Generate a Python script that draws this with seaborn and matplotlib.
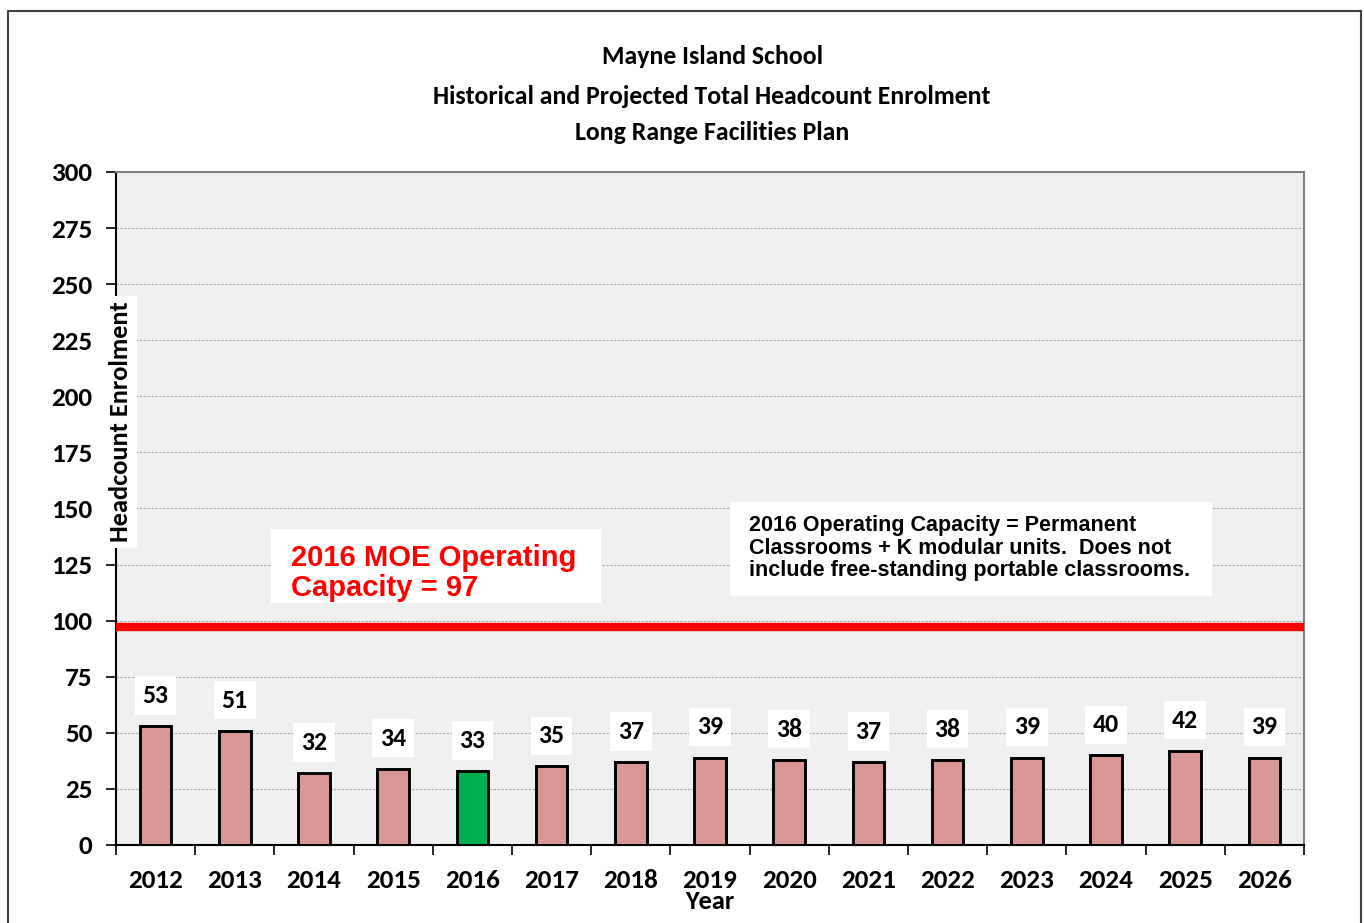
import matplotlib
matplotlib.use("Agg")
import matplotlib.pyplot as plt
import seaborn as sns
import pandas as pd
from matplotlib.ticker import MultipleLocator, FixedLocator
from matplotlib.patches import Rectangle
from matplotlib import font_manager as fm

years = ["2012", "2013", "2014", "2015", "2016", "2017", "2018", "2019",
         "2020", "2021", "2022", "2023", "2024", "2025", "2026"]
enrolment = [53, 51, 32, 34, 33, 35, 37, 39, 38, 37, 38, 39, 40, 42, 39]
current_year = "2016"
capacity = 97
title_lines = ["Mayne Island School",
               "Historical and Projected Total Headcount Enrolment",
               "Long Range Facilities Plan"]
capacity_label = "2016 MOE Operating\nCapacity = 97"
note_text = ("2016 Operating Capacity = Permanent\n"
             "Classrooms + K modular units.  Does not\n"
             "include free-standing portable classrooms.")

sns.set_style("white")
plt.rcParams['font.family'] = ['Lato', 'DejaVu Sans']
for k in ["text.color", "axes.labelcolor", "xtick.color", "ytick.color"]:
    plt.rcParams[k] = "black"


def find_font(cands):
    files = [f.fname for f in fm.fontManager.ttflist]
    for c in cands:
        for p in files:
            if p.split("/")[-1].lower() == c.lower():
                return p
    return None


calib_path = find_font(["Carlito-Bold.ttf", "Lato-Bold.ttf", "OpenSans-Bold.ttf",
                        "Roboto-Bold.ttf", "LiberationSans-Bold.ttf"])
arial_path = find_font(["LiberationSans-Bold.ttf"])


def cf(size):
    if calib_path:
        return fm.FontProperties(fname=calib_path, size=size)
    return fm.FontProperties(family="DejaVu Sans", weight="bold", size=size)


def af(size):
    if arial_path:
        return fm.FontProperties(fname=arial_path, size=size)
    return fm.FontProperties(family="DejaVu Sans", weight="bold", size=size)


W, H = 1364, 923
fig = plt.figure(figsize=(W / 100, H / 100), dpi=100)
ax = fig.add_axes([116 / W, 1 - 845 / H, (1304 - 116) / W, (845 - 172) / H])

df = pd.DataFrame({"Year": years, "Enrolment": enrolment})
df["kind"] = ["current" if y == current_year else "other" for y in years]
palette = {"other": "#D99694", "current": "#00B050"}

sns.barplot(data=df, x="Year", y="Enrolment", hue="kind", palette=palette,
            dodge=False, width=0.4, edgecolor="black", linewidth=2.1,
            saturation=1, legend=False, ax=ax, zorder=3)

ax.set_facecolor("#F0F0F0")
ax.set_ylim(0, 300)
ax.set_xlim(-0.5, len(years) - 0.5)
ax.yaxis.set_major_locator(MultipleLocator(25))
ax.grid(axis="y", color="#A6A6A6", linestyle=(0, (2, 1.5)), linewidth=0.8, zorder=0)
ax.set_axisbelow(True)

for side in ["top", "right"]:
    ax.spines[side].set_color("#808080")
    ax.spines[side].set_linewidth(1.5)
for side in ["left", "bottom"]:
    ax.spines[side].set_color("black")
    ax.spines[side].set_linewidth(1.5)

ax.tick_params(axis="y", direction="out", length=7, width=1.2, color="black",
               left=True, pad=10)
ax.tick_params(axis="x", which="major", length=0, pad=17)
ax.xaxis.set_minor_locator(FixedLocator([i - 0.5 for i in range(len(years) + 1)]))
ax.tick_params(axis="x", which="minor", direction="out", length=7, width=1.2,
               color="black", bottom=True)
for lab in ax.get_xticklabels() + ax.get_yticklabels():
    lab.set_fontproperties(cf(19.5))

ax.set_xlabel("Year", fontproperties=cf(19), labelpad=-1)
ax.set_ylabel("")
fig.text(120 / W, 1 - 422 / H, "Headcount Enrolment", rotation=90,
         ha="center", va="center", fontproperties=cf(19),
         bbox=dict(facecolor="white", edgecolor="none", pad=4))

# capacity line
ax.axhline(capacity, color="#FF0000", linewidth=6, zorder=4)

# bar labels
for i, v in enumerate(enrolment):
    ax.annotate(str(v), (i, v), xytext=(0, 22), textcoords="offset points",
                ha="center", va="center", fontproperties=cf(18.5),
                bbox=dict(facecolor="white", edgecolor="none", pad=5.5), zorder=5)

# capacity text box
fig.patches.append(Rectangle((271 / W, 1 - 603 / H), 330 / W, 74 / H,
                             transform=fig.transFigure, facecolor="white",
                             edgecolor="none", zorder=5))
fig.text(291 / W, 1 - 573 / H, capacity_label, ha="left", va="center",
         fontproperties=af(21), color="#FF0000", linespacing=1.12, zorder=6)

# note box
fig.patches.append(Rectangle((730 / W, 1 - 596 / H), 482 / W, 94 / H,
                             transform=fig.transFigure, facecolor="white",
                             edgecolor="none", zorder=5))
fig.text(749 / W, 1 - 548 / H, note_text, ha="left", va="center",
         fontproperties=af(15.5), color="black", linespacing=1.07, zorder=6)

# title
for yy, line in zip([56, 96, 133], title_lines):
    fig.text(712 / W, 1 - yy / H, line, ha="center", va="center",
             fontproperties=cf(18.5))

# figure border
fig.patches.append(Rectangle((8 / W, -0.1), (1361 - 8) / W, 1.1 - 11 / H,
                             transform=fig.transFigure, facecolor="none",
                             edgecolor="#404040", linewidth=1.5, zorder=0))

fig.savefig("out.png", dpi=100)
